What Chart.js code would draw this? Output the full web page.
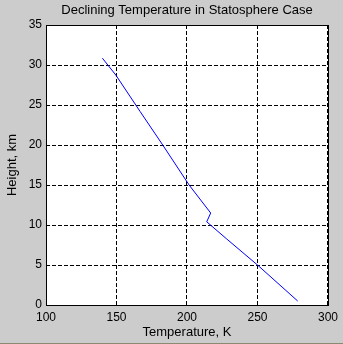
<!DOCTYPE html>
<html>
<head>
<meta charset="utf-8">
<script src="https://cdn.jsdelivr.net/npm/chart.js@4/dist/chart.umd.min.js"></script>
<style>
  html, body { margin: 0; padding: 0; background: #cccccc; }
  canvas { display: block; }
</style>
</head>
<body>
<canvas id="profileChart" width="343" height="344"></canvas>
<script>
// Values
const chartTitle = "Declining Temperature in Statosphere Case";
const xAxisLabel = "Temperature, K";
const yAxisLabel = "Height, km";
const temperatureK = [278.5, 250, 228.2, 214, 216.8, 201.5, 182.8, 166.7, 149.5, 140];
const heightKm = [0.5, 5, 8.25, 10.4, 11.5, 15, 20, 24.2, 28.75, 30.85];
const xTicks = [100, 150, 200, 250, 300];
const yTicks = [0, 5, 10, 15, 20, 25, 30, 35];

const fontFamily = "'Liberation Sans', Arial, sans-serif";

// Gray figure background, white axes box and black frame (MATLAB look)
const figurePlugin = {
    id: "figure",
    beforeDraw(chart) {
        const { ctx, chartArea: a } = chart;
        ctx.save();
        ctx.fillStyle = "#cccccc";
        ctx.fillRect(0, 0, chart.width, chart.height);
        ctx.fillStyle = "#ffffff";
        ctx.fillRect(a.left, a.top, a.right - a.left, a.bottom - a.top);
        ctx.fillStyle = "#8a8a72";
        ctx.fillRect(0, chart.height - 1, chart.width, 1);
        ctx.restore();
    },
    afterDraw(chart) {
        const { ctx, chartArea: a } = chart;
        ctx.save();
        ctx.strokeStyle = "#000000";
        ctx.lineWidth = 1;
        ctx.strokeRect(Math.round(a.left) + 0.5, Math.round(a.top) + 0.5,
            Math.round(a.right - a.left), Math.round(a.bottom - a.top));
        ctx.restore();
    },
};

const points = temperatureK.map((t, i) => ({ x: t, y: heightKm[i] }));

new Chart(document.getElementById("profileChart"), {
    type: "scatter",
    data: {
        datasets: [{
            data: points,
            showLine: true,
            borderColor: "#0000ff",
            borderWidth: 1,
            pointRadius: 0,
            tension: 0,
            fill: false,
        }],
    },
    options: {
        responsive: false,
        animation: false,
        layout: { padding: { left: 0, right: 15, top: 0, bottom: 0 } },
        plugins: { legend: { display: false }, tooltip: { enabled: false }, title: { display: false } },
        scales: {
            x: {
                type: "linear",
                position: "bottom",
                min: 100,
                max: 300,
                afterBuildTicks: s => { s.ticks = xTicks.map(v => ({ value: v })); },
                afterFit: s => { s.height = 39; },
                ticks: { color: "#000", padding: 5, maxRotation: 0, font: { family: fontFamily, size: 12 } },
                grid: { color: "#000", lineWidth: 1, drawTicks: false },
                border: { display: false, dash: [4, 2] },
                title: { display: true, text: xAxisLabel, color: "#000", padding: { top: 0, bottom: 4 },
                    font: { family: fontFamily, size: 13 } },
            },
            top: {
                type: "linear",
                position: "top",
                min: 100,
                max: 300,
                afterFit: s => { s.height = 25; },
                ticks: { display: false },
                grid: { display: false },
                border: { display: false },
                title: { display: true, text: chartTitle, color: "#000", padding: { top: 3, bottom: 0 },
                    font: { family: fontFamily, size: 13 } },
            },
            y: {
                type: "linear",
                position: "left",
                min: 0,
                max: 35,
                afterBuildTicks: s => { s.ticks = yTicks.map(v => ({ value: v })); },
                afterFit: s => { s.width = 46; },
                ticks: { color: "#000", padding: 4, font: { family: fontFamily, size: 12 } },
                grid: { color: "#000", lineWidth: 1, drawTicks: false },
                border: { display: false, dash: [4, 2] },
                title: { display: true, text: yAxisLabel, color: "#000", padding: { top: 5, bottom: 0 },
                    font: { family: fontFamily, size: 13 } },
            },
        },
    },
    plugins: [figurePlugin],
});
</script>
</body>
</html>
